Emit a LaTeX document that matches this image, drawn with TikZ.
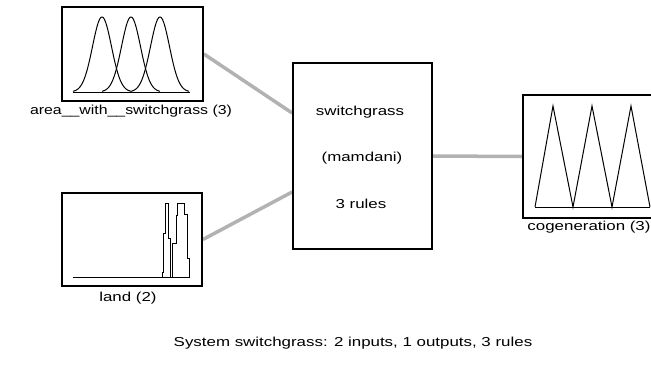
\documentclass[tikz,border=0pt]{standalone}
\usepackage{graphicx}
\usepackage{fontspec}
\setmainfont{Liberation Sans}
\usetikzlibrary{backgrounds}
\newcommand{\widetxt}[1]{\scalebox{1.3}[1]{#1}}
\begin{document}
\begin{tikzpicture}[x=1pt,y=-1pt,
  box/.style={draw=black,line width=1.8pt,inner sep=0pt,fill=none},
  conn/.style={draw={rgb,255:red,178;green,178;blue,178},line width=3.5pt},
  mf/.style={draw=black,line width=1pt,line join=miter},
  lbl/.style={inner sep=0pt,font=\fontsize{13}{15}\selectfont}]
\useasboundingbox (0,0) rectangle (651,383);
\clip (0,0) rectangle (651,383);
% boxes
\node[box,minimum width=141pt,minimum height=94pt] (in1) at (132.5,54) {};
\node[box,minimum width=140pt,minimum height=93pt] (in2) at (132,239.5) {};
\node[box,minimum width=139pt,minimum height=186pt] (sys) at (362.5,156) {};
\node[box,minimum width=139pt,minimum height=123pt] (out1) at (592.5,156.5) {};
% connectors
\begin{scope}[on background layer]
\draw[conn] (in1.east) -- ([yshift=43pt]sys.west);
\draw[conn] (in2.east) -- ([yshift=-36pt]sys.west);
\draw[conn] (sys.east) -- (out1.west);
\end{scope}
% membership functions: area
\foreach \cc in {102,131,160}
  \draw[mf] plot[domain=-29:29,samples=80,smooth] ({\cc+\x},{92-75*exp(-(\x*\x)/180.5)});
\draw[mf] (73,92) -- (190,92);
% land
\draw[mf] (73,277.5) -- (189,277.5);
\draw[mf] (162,277.5) -- (162,272) -- (163.3,272) -- (163.3,233) -- (165.7,233) -- (165.7,203) -- (168.3,203) -- (168.3,238) -- (170.7,238) -- (170.7,277.5);
\draw[mf] (172.7,277.5) -- (172.7,243) -- (176,243) -- (176,215) -- (177.5,215) -- (177.5,203) -- (184.5,203) -- (184.5,214) -- (187,214) -- (187,258) -- (189,258) -- (189,277.5);
% cogeneration
\draw[mf] (535,207) -- (553,106) -- (573,207) -- (592,106) -- (612,207) -- (631,106) -- (650,207);
\draw[mf] (535,207) -- (650,207);
% labels
\node[lbl] (l1) at (131,111) {\scalebox{1.22}[1]{area\_\_with\_\_switchgrass (3)}};
\node[lbl] (l2) at (128,298) {\widetxt{land (2)}};
\node[lbl] (l4) at (589,227) {\widetxt{cogeneration (3)}};
\node[lbl] (t1) at (360,112) {\widetxt{switchgrass}};
\node[lbl] (t2) at (362,158) {\widetxt{(mamdani)}};
\node[lbl] (t3) at (361,204) {\widetxt{3 rules}};
\node[lbl] (cap) at (353,343) {\widetxt{System switchgrass: 2 inputs, 1 outputs, 3 rules}};
\end{tikzpicture}
\end{document}
